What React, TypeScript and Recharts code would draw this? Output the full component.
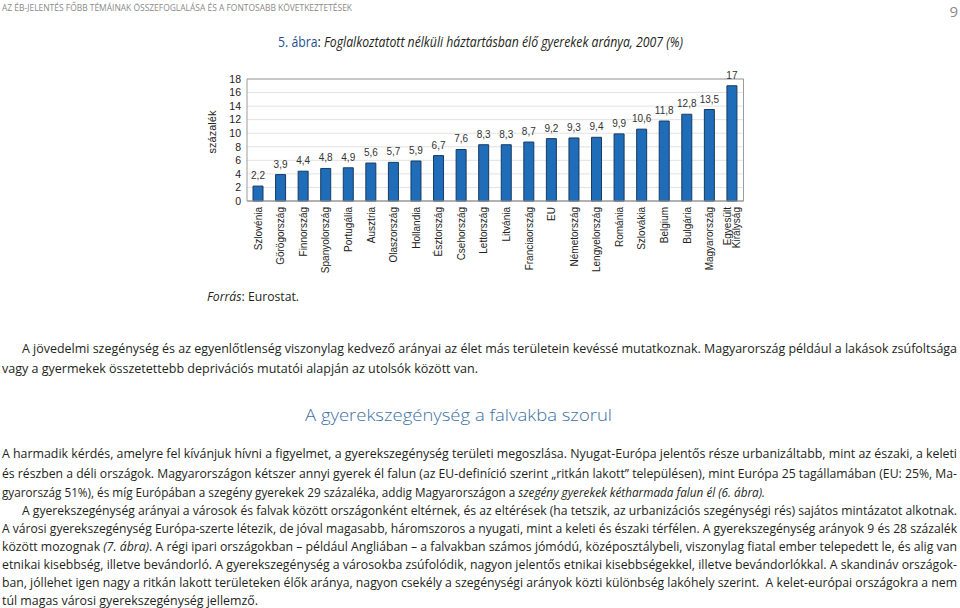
import React from 'react';
import { BarChart, Bar, XAxis, YAxis, CartesianGrid, LabelList, ReferenceArea, Label } from 'recharts';

// 5. ábra – Foglalkoztatott nélküli háztartásban élő gyerekek aránya, 2007 (%)
const countries = [
  'Szlovénia', 'Görögország', 'Finnország', 'Spanyolország', 'Portugália', 'Ausztria',
  'Olaszország', 'Hollandia', 'Észtország', 'Csehország', 'Lettország', 'Litvánia',
  'Franciaország', 'EU', 'Németország', 'Lengyelország', 'Románia', 'Szlovákia',
  'Belgium', 'Bulgária', 'Magyarország', 'Egyesült Királyság',
];
const shares = [
  2.2, 3.9, 4.4, 4.8, 4.9, 5.6, 5.7, 5.9, 6.7, 7.6, 8.3, 8.3,
  8.7, 9.2, 9.3, 9.4, 9.9, 10.6, 11.8, 12.8, 13.5, 17,
];
const yTicks = [0, 2, 4, 6, 8, 10, 12, 14, 16, 18];

const data = countries.map((country, i) => ({ country, value: shares[i] }));

const CHART_FONT = '"Liberation Sans", Arial, sans-serif';
const TEXT_FONT = '"Open Sans", "Noto Sans", sans-serif';

const fmt = (v: any) => String(v).replace('.', ',');

const CountryTick = (props: any) => {
  const { x, y, payload } = props;
  const parts: string[] = payload.value.includes(' ') ? payload.value.split(' ') : [payload.value];
  return (
    <g transform={`translate(${x},${y + 6}) rotate(-90)`}>
      {parts.map((p, i) => (
        <text
          key={p}
          x={0}
          y={0}
          dy={parts.length > 1 ? `${(i - 0.5) * 0.85 + 0.35}em` : '0.35em'}
          textAnchor="end"
          fontSize={10}
          fontFamily={CHART_FONT}
          fill="#222"
        >
          {p}
        </text>
      ))}
    </g>
  );
};

const AxisTitle = (props: any) => {
  const vb = props.viewBox || { x: 0, y: 0, width: 0, height: 0 };
  const cx = vb.x + 9;
  const cy = vb.y + vb.height / 2 - 8;
  return (
    <text
      x={cx}
      y={cy}
      transform={`rotate(-90 ${cx} ${cy})`}
      textAnchor="middle"
      fontSize={11}
      fontFamily={CHART_FONT}
      fill="#222"
    >
      százalék
    </text>
  );
};

// page text, one entry per printed line
type Seg = { t: string; i?: boolean; c?: string };
type Line = { x: number; y: number; w?: number; size: number; segs: Seg[]; fill?: string; weight?: number };

const BODY = 12.2;

const bodyLines: Line[] = [
  { x: 22, y: 353, w: 935, size: BODY, segs: [{ t: 'A jövedelmi szegénység és az egyenlőtlenség viszonylag kedvező arányai az élet más területein kevéssé mutatkoznak. Magyarország például a lakások zsúfoltsága' }] },
  { x: 2, y: 373, w: 476, size: BODY, segs: [{ t: 'vagy a gyermekek összetettebb deprivációs mutatói alapján az utolsók között van.' }] },
  { x: 2, y: 458, w: 955, size: BODY, segs: [{ t: 'A harmadik kérdés, amelyre fel kívánjuk hívni a figyelmet, a gyerekszegénység területi megoszlása. Nyugat-Európa jelentős része urbanizáltabb, mint az északi, a keleti' }] },
  { x: 2, y: 478, w: 955, size: BODY, segs: [{ t: 'és részben a déli országok. Magyarországon kétszer annyi gyerek él falun (az EU-definíció szerint „ritkán lakott” településen), mint Európa 25 tagállamában (EU: 25%, Ma-' }] },
  { x: 2, y: 497, w: 763, size: BODY, segs: [{ t: 'gyarország 51%), és míg Európában a szegény gyerekek 29 százaléka, addig Magyarországon a ' }, { t: 'szegény gyerekek kétharmada falun él (6. ábra).', i: true }] },
  { x: 22, y: 515, w: 935, size: BODY, segs: [{ t: 'A gyerekszegénység arányai a városok és falvak között országonként eltérnek, és az eltérések (ha tetszik, az urbanizációs szegénységi rés) sajátos mintázatot alkotnak.' }] },
  { x: 2, y: 533, w: 955, size: BODY, segs: [{ t: 'A városi gyerekszegénység Európa-szerte létezik, de jóval magasabb, háromszoros a nyugati, mint a keleti és északi térfélen. A gyerekszegénység arányok 9 és 28 százalék' }] },
  { x: 2, y: 551, w: 955, size: BODY, segs: [{ t: 'között mozognak ' }, { t: '(7. ábra)', i: true }, { t: '. A régi ipari országokban – például Angliában – a falvakban számos jómódú, középosztálybeli, viszonylag fiatal ember telepedett le, és alig van' }] },
  { x: 2, y: 569, w: 955, size: BODY, segs: [{ t: 'etnikai kisebbség, illetve bevándorló. A gyerekszegénység a városokba zsúfolódik, nagyon jelentős etnikai kisebbségekkel, illetve bevándorlókkal. A skandináv országok-' }] },
  { x: 2, y: 587, w: 955, size: BODY, segs: [{ t: 'ban, jóllehet igen nagy a ritkán lakott területeken élők aránya, nagyon csekély a szegénységi arányok közti különbség lakóhely szerint.  A kelet-európai országokra a nem' }] },
  { x: 2, y: 605, w: 256, size: BODY, segs: [{ t: 'túl magas városi gyerekszegénység jellemző.' }] },
];

const headLines: Line[] = [
  { x: 2, y: 11, w: 350, size: 8.5, fill: '#8a8a8a', segs: [{ t: 'AZ ÉB-JELENTÉS FŐBB TÉMÁINAK ÖSSZEFOGLALÁSA ÉS A FONTOSABB KÖVETKEZTETÉSEK' }] },
  { x: 278, y: 47, w: 405, size: 14, segs: [{ t: '5. ábra', c: '#1f4f8f' }, { t: ': ' }, { t: 'Foglalkoztatott nélküli háztartásban élő gyerekek aránya, 2007 (%)', i: true }] },
  { x: 207, y: 301, w: 92, size: 12, segs: [{ t: 'Forrás', i: true }, { t: ': Eurostat.' }] },
  { x: 305, y: 421, w: 307, size: 17, fill: '#3d6fa3', weight: 300, segs: [{ t: 'A gyerekszegénység a falvakba szorul' }] },
];

const TextLine = ({ line }: { line: Line }) => (
  <text
    x={line.x}
    y={line.y}
    textLength={line.w}
    lengthAdjust="spacingAndGlyphs"
    fontSize={line.size}
    fontFamily={TEXT_FONT}
    fontWeight={line.weight || 400}
    fill={line.fill || '#231f20'}
    xmlSpace="preserve"
  >
    {line.segs.map((s, i) => (
      <tspan key={i} fontStyle={s.i ? 'italic' : 'normal'} fill={s.c}>
        {s.t}
      </tspan>
    ))}
  </text>
);

export default function App() {
  return (
    <div style={{ position: 'absolute', left: 0, top: 0, width: 960, height: 608, background: '#fff', overflow: 'hidden' }}>
      <svg width={960} height={608} style={{ position: 'absolute', left: 0, top: 0 }}>
        {headLines.map((l, i) => <TextLine key={'h' + i} line={l} />)}
        {bodyLines.map((l, i) => <TextLine key={'b' + i} line={l} />)}
        <text x={958} y={17} textAnchor="end" fontSize={15} fontFamily={TEXT_FONT} fill="#8a8a8a">9</text>
      </svg>
      <div style={{ position: 'absolute', left: 0, top: 0 }}>
        <BarChart
          width={960}
          height={290}
          data={data}
          margin={{ top: 79, right: 216.5, left: 207, bottom: 9 }}
          barSize={10}
        >
          <CartesianGrid vertical={false} stroke="#e2e2e2" />
          <ReferenceArea y1={0} y2={18} fill="none" stroke="#9c9c9c" strokeWidth={1} />
          <XAxis
            dataKey="country"
            interval={0}
            height={80}
            tickLine={false}
            tickSize={0}
            tickMargin={0}
            axisLine={{ stroke: '#9c9c9c' }}
            tick={<CountryTick />}
          />
          <YAxis
            width={40}
            domain={[0, 18]}
            ticks={yTicks}
            interval={0}
            tickLine={false}
            axisLine={false}
            tickSize={4}
            tick={{ fontSize: 10.5, fontFamily: CHART_FONT, fill: '#222' }}
          >
            <Label content={<AxisTitle />} />
          </YAxis>
          <Bar dataKey="value" fill="#1f6cb8" stroke="#173a60" strokeWidth={1} isAnimationActive={false}>
            <LabelList
              dataKey="value"
              position="top"
              offset={7}
              formatter={fmt}
              style={{ fontSize: 10, fontFamily: CHART_FONT, fill: '#333' }}
            />
          </Bar>
        </BarChart>
      </div>
    </div>
  );
}
